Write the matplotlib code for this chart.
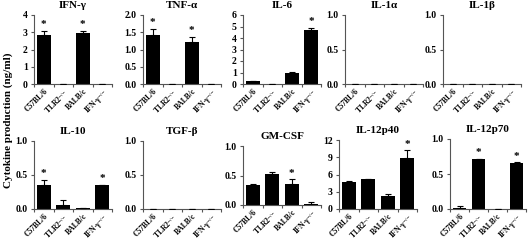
import matplotlib
matplotlib.use("Agg")
import matplotlib.pyplot as plt
import numpy as np

plt.rcParams['font.family'] = ['Liberation Serif', 'DejaVu Serif']
plt.rcParams['font.weight'] = 'bold'
plt.rcParams['mathtext.fontset'] = 'custom'
plt.rcParams['mathtext.rm'] = 'Liberation Serif:bold'
plt.rcParams['mathtext.it'] = 'Liberation Serif:bold'
plt.rcParams['mathtext.default'] = 'rm'

strains = ['C57BL/6', 'TLR2$^{-/-}$', 'BALB/c', 'IFN-γ$^{-/-}$']

titles = ['IFN-γ', 'TNF-α', 'IL-6', 'IL-1α', 'IL-1β',
          'IL-10', 'TGF-β', 'GM-CSF', 'IL-12p40', 'IL-12p70']

ifng = [2.85, 0, 2.97, 0];        ifng_err = [0.25, 0, 0.11, 0];   ifng_sig = [1, 0, 1, 0]
tnfa = [1.43, 0, 1.23, 0];        tnfa_err = [0.17, 0, 0.14, 0];   tnfa_sig = [1, 0, 1, 0]
il6 = [0.22, 0, 1.0, 4.7];        il6_err = [0.03, 0, 0.08, 0.2];  il6_sig = [0, 0, 0, 1]
il1a = [0, 0, 0, 0];              il1a_err = [0, 0, 0, 0];         il1a_sig = [0, 0, 0, 0]
il1b = [0, 0, 0, 0];              il1b_err = [0, 0, 0, 0];         il1b_sig = [0, 0, 0, 0]
il10 = [0.36, 0.06, 0.01, 0.35];  il10_err = [0.07, 0.07, 0, 0.01]; il10_sig = [1, 0, 0, 1]
tgfb = [0, 0, 0, 0];              tgfb_err = [0, 0, 0, 0];         tgfb_sig = [0, 0, 0, 0]
gmcsf = [0.34, 0.52, 0.35, 0.02]; gmcsf_err = [0.01, 0.04, 0.09, 0.03]; gmcsf_sig = [0, 0, 1, 0]
il12p40 = [4.7, 5.2, 2.3, 8.8];   il12p40_err = [0.2, 0.07, 0.3, 1.4]; il12p40_sig = [0, 0, 0, 1]
il12p70 = [0.02, 0.71, 0, 0.66];  il12p70_err = [0.03, 0.01, 0, 0.01]; il12p70_sig = [0, 1, 0, 1]

values = [ifng, tnfa, il6, il1a, il1b, il10, tgfb, gmcsf, il12p40, il12p70]
errors = [ifng_err, tnfa_err, il6_err, il1a_err, il1b_err, il10_err, tgfb_err, gmcsf_err, il12p40_err, il12p70_err]
sigs = [ifng_sig, tnfa_sig, il6_sig, il1a_sig, il1b_sig, il10_sig, tgfb_sig, gmcsf_sig, il12p40_sig, il12p70_sig]
ymax = [4, 2, 6, 1, 1, 1, 1, 1, 12, 1]
ysteps = [1, 0.5, 1, 0.5, 0.5, 0.5, 0.5, 0.5, 3, 0.5]
yfmt = ['%d', '%.1f', '%d', '%.1f', '%.1f', '%.1f', '%.1f', '%.1f', '%d', '%.1f']

W, H = 528, 241
# (left px, top px, width px, bottom px)
boxes = [(34, 15, 78, 84), (143, 15, 78, 84), (243, 15, 78, 84), (345, 15, 78, 84), (443, 15, 78, 84),
         (34, 141, 78, 209), (143, 141, 78, 209), (243, 146, 78, 205), (339, 140, 78, 209), (450, 139, 76, 209)]

fig = plt.figure(figsize=(W / 100, H / 100), dpi=100)
x = np.arange(4)
for i in range(10):
    l, t, w, b = boxes[i]
    ax = fig.add_axes([l / W, (H - b) / H, w / W, (b - t) / H])
    v = np.array(values[i]); e = np.array(errors[i])
    ax.bar(x, v, width=0.72, color='black', zorder=2)
    ax.errorbar(x, v, yerr=[np.zeros(4), e], fmt='none', ecolor='black',
                elinewidth=0.8, capsize=2, capthick=0.8, zorder=3)
    for j in range(4):
        if sigs[i][j]:
            ax.text(x[j], v[j] + e[j] + ymax[i] * 0.02, '*', ha='center', va='bottom',
                    fontsize=8, fontweight='bold')
    ax.set_xlim(-0.5, 3.5)
    ax.set_ylim(0, ymax[i])
    yt = np.arange(0, ymax[i] + 1e-9, ysteps[i])
    ax.set_yticks(yt)
    ax.set_yticklabels([yfmt[i] % t_ for t_ in yt], fontsize=7, fontweight='bold')
    ax.set_xticks(x)
    ax.set_xticklabels(strains, rotation=45, ha='right', rotation_mode='anchor',
                       fontsize=5.5, fontweight='bold')
    ax.set_xticks(np.arange(-0.5, 4, 1), minor=True)
    ax.tick_params(axis='x', which='major', length=0, pad=2)
    ax.tick_params(axis='x', which='minor', length=2.5, width=0.8, color='#555555')
    ax.tick_params(axis='y', length=2.5, width=0.8, color='#555555', pad=2)
    for s in ['top', 'right']:
        ax.spines[s].set_visible(False)
    for s in ['left', 'bottom']:
        ax.spines[s].set_color('#555555')
        ax.spines[s].set_linewidth(0.8)
    ax.set_title(titles[i], fontsize=8, fontweight='bold', pad=5)

fig.text(8 / W, 0.5, 'Cytokine production (ng/ml)', rotation=90, ha='center', va='center',
         fontsize=8, fontweight='bold')
fig.savefig('out.png', dpi=100)
